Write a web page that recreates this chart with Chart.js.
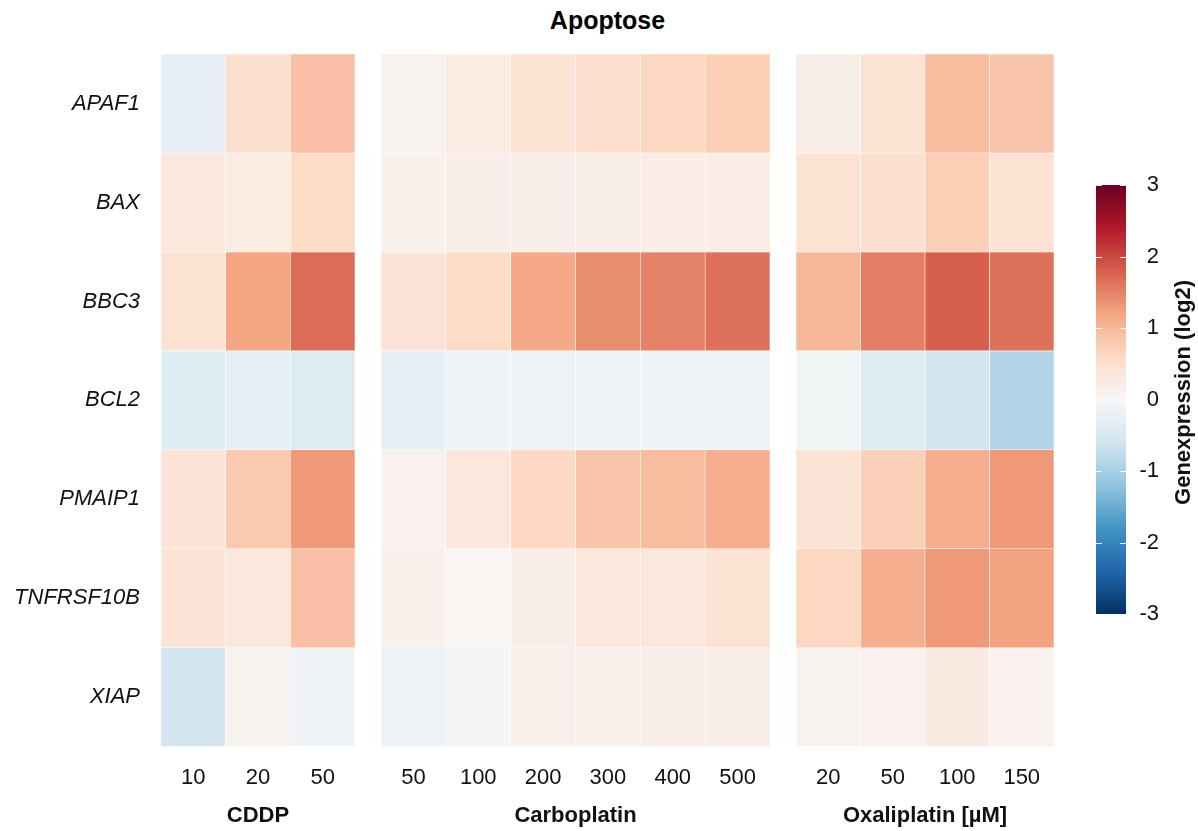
<!DOCTYPE html>
<html><head><meta charset="utf-8">
<script src="https://cdn.jsdelivr.net/npm/chart.js@4.4.1/dist/chart.umd.min.js"></script>
<style>
html,body{margin:0;padding:0;background:#fff;width:1198px;height:831px;overflow:hidden;}
.box{position:absolute;top:0;height:831px;}
#title{position:absolute;top:6px;left:161px;width:893px;text-align:center;line-height:25px;font:bold 25px "Liberation Sans",Arial,sans-serif;color:#000;}
</style></head><body>
<div id="title">Apoptose</div>
<div class="box" style="left:0;width:356px"><canvas id="c1"></canvas></div>
<div class="box" style="left:381px;width:390px"><canvas id="c2"></canvas></div>
<div class="box" style="left:796px;width:259px"><canvas id="c3"></canvas></div>
<div class="box" style="left:1080px;width:118px"><canvas id="c4"></canvas></div>
<script>
// ---- data ----
const genes = ['APAF1', 'BAX', 'BBC3', 'BCL2', 'PMAIP1', 'TNFRSF10B', 'XIAP'];
const cddpDoses = ['10', '20', '50'];
const carboDoses = ['50', '100', '200', '300', '400', '500'];
const oxaliDoses = ['20', '50', '100', '150'];
const panelTitles = ['CDDP', 'Carboplatin', 'Oxaliplatin [µM]'];
// log2 gene expression, rows follow genes, columns follow doses
const cddpValues = [
  [-0.30, 0.50, 0.90],
  [0.35, 0.25, 0.60],
  [0.45, 1.20, 1.70],
  [-0.40, -0.30, -0.40],
  [0.40, 0.80, 1.30],
  [0.42, 0.33, 0.90],
  [-0.55, 0.10, -0.12]
];
const carboValues = [
  [0.10, 0.25, 0.45, 0.55, 0.65, 0.75],
  [0.15, 0.20, 0.20, 0.20, 0.22, 0.22],
  [0.40, 0.60, 1.15, 1.40, 1.50, 1.65],
  [-0.30, -0.15, -0.17, -0.15, -0.12, -0.15],
  [0.12, 0.35, 0.62, 0.85, 0.95, 1.10],
  [0.15, 0.05, 0.20, 0.32, 0.35, 0.45],
  [-0.18, -0.06, 0.15, 0.15, 0.20, 0.20]
];
const oxaliValues = [
  [0.20, 0.45, 0.95, 0.85],
  [0.45, 0.50, 0.75, 0.45],
  [1.00, 1.55, 1.80, 1.65],
  [-0.08, -0.40, -0.55, -0.90],
  [0.42, 0.72, 1.10, 1.30],
  [0.65, 1.10, 1.30, 1.22],
  [0.08, 0.12, 0.27, 0.12]
];
const legendTicks = [3, 2, 1, 0, -1, -2, -3];
const legendTitle = 'Genexpression (log2)';
// RdBu (11 classes), from -3 (blue) to +3 (red)
const rdbu = ['#053061','#2166ac','#4393c3','#92c5de','#d1e5f0','#f7f7f7','#fddbc7','#f4a582','#d6604d','#b2182b','#67001f'];
const vMin = -3, vMax = 3;

// ---- helpers ----
const FONT = '"Liberation Sans", Arial, sans-serif';
Chart.defaults.font.family = FONT;
Chart.defaults.color = '#111';
function hex(c){ return [parseInt(c.slice(1,3),16), parseInt(c.slice(3,5),16), parseInt(c.slice(5,7),16)]; }
const rdbuRgb = rdbu.map(hex);
function colorFor(v){
  let t = (Math.max(vMin, Math.min(vMax, v)) - vMin) / (vMax - vMin) * (rdbu.length - 1);
  let k = Math.min(Math.floor(t), rdbu.length - 2);
  let f = t - k;
  const a = rdbuRgb[k], b = rdbuRgb[k+1];
  const c = a.map((x, j) => Math.round(x + (b[j] - x) * f));
  return 'rgb(' + c.join(',') + ')';
}

function makePanel(id, doses, values, axisTitle, showY){
  const datasets = genes.map((g, i) => ({
    label: g,
    data: doses.map(() => [i, i + 1]),
    backgroundColor: values[i].map(colorFor),
    borderColor: '#ffffff',
    borderWidth: 0.6,
    borderSkipped: false,
    barPercentage: 1,
    categoryPercentage: 1,
    grouped: false
  }));
  return new Chart(document.getElementById(id), {
    type: 'bar',
    data: { labels: doses, datasets },
    options: {
      responsive: true, maintainAspectRatio: false, animation: false,
      layout: { padding: { top: 54, right: 1, left: 0, bottom: 0 } },
      plugins: { legend: { display: false }, tooltip: { enabled: false } },
      scales: {
        x: {
          type: 'category',
          grid: { display: false, drawTicks: false, tickLength: 0 },
          border: { display: false },
          ticks: { font: { size: 22 }, color: '#111', padding: 18, maxRotation: 0, autoSkip: false },
          title: { display: true, text: axisTitle, font: { size: 22, weight: 'bold' }, color: '#111', padding: { top: 0, bottom: 2 } },
          afterFit: s => { s.height = 84.3; s.paddingLeft = 0; s.paddingRight = 0; }
        },
        y: {
          type: 'linear', min: 0, max: genes.length, reverse: true,
          display: showY,
          grid: { display: false, drawTicks: false, tickLength: 0 },
          border: { display: false },
          afterBuildTicks: s => { s.ticks = genes.map((g, i) => ({ value: i + 0.5 })); },
          ticks: { callback: (v, idx) => genes[idx], font: { size: 22, style: 'italic' }, color: '#111', padding: 21, autoSkip: false },
          afterFit: s => { if (showY) s.width = 161; }
        }
      }
    }
  });
}

makePanel('c1', cddpDoses, cddpValues, panelTitles[0], true);
makePanel('c2', carboDoses, carboValues, panelTitles[1], false);
makePanel('c3', oxaliDoses, oxaliValues, panelTitles[2], false);

// ---- colour bar ----
const colorbarPlugin = {
  id: 'colorbarExtras',
  afterDatasetsDraw(chart){
    const ctx = chart.ctx, a = chart.chartArea, y = chart.scales.y;
    ctx.save();
    ctx.strokeStyle = 'rgba(255,255,255,0.9)';
    ctx.lineWidth = 1;
    legendTicks.forEach(v => {
      const py = Math.round(y.getPixelForValue(v)) + 0.5;
      ctx.beginPath(); ctx.moveTo(a.left, py); ctx.lineTo(a.left + 6, py); ctx.stroke();
      ctx.beginPath(); ctx.moveTo(a.right - 6, py); ctx.lineTo(a.right, py); ctx.stroke();
    });
    ctx.restore();
  },
  afterDraw(chart){
    const ctx = chart.ctx, a = chart.chartArea;
    ctx.save();
    ctx.translate(104, (a.top + a.bottom) / 2 - 7);
    ctx.rotate(-Math.PI / 2);
    ctx.textAlign = 'center';
    ctx.textBaseline = 'middle';
    ctx.fillStyle = '#111';
    ctx.font = 'bold 22px ' + FONT;
    ctx.fillText(legendTitle, 0, 0);
    ctx.restore();
  }
};
new Chart(document.getElementById('c4'), {
  type: 'bar',
  data: {
    labels: [''],
    datasets: [{
      data: [[vMin, vMax]],
      backgroundColor: (c) => {
        const ch = c.chart, a = ch.chartArea;
        if (!a) return rdbu[5];
        const g = ch.ctx.createLinearGradient(0, a.bottom, 0, a.top);
        rdbu.forEach((col, k) => g.addColorStop(k / (rdbu.length - 1), col));
        return g;
      },
      borderWidth: 0, barPercentage: 1, categoryPercentage: 1
    }]
  },
  options: {
    responsive: true, maintainAspectRatio: false, animation: false,
    layout: { padding: { top: 185, bottom: 217, left: 16, right: 39 } },
    plugins: { legend: { display: false }, tooltip: { enabled: false } },
    scales: {
      x: { display: false },
      y: {
        position: 'right', min: vMin, max: vMax,
        grid: { display: false, drawTicks: false, tickLength: 0 },
        border: { display: false },
        afterBuildTicks: s => { s.ticks = legendTicks.map(v => ({ value: v })); },
        ticks: { font: { size: 22 }, color: '#111', padding: 13, crossAlign: 'far' },
        afterFit: s => { s.width = 33; }
      }
    }
  },
  plugins: [colorbarPlugin]
});
</script>
</body></html>
